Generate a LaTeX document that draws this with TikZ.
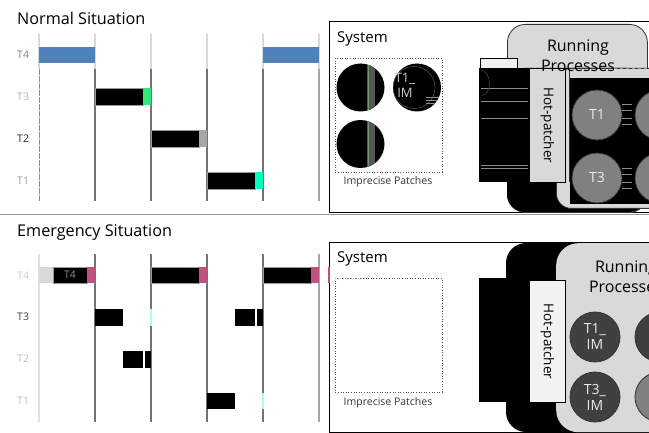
\documentclass[tikz,border=0pt]{standalone}
\usepackage{fontspec}
\setmainfont{Open Sans}
\newcommand{\fsz}[1]{\fontsize{#1}{#1}\selectfont}
\definecolor{tblue}{HTML}{4F81BD}
\definecolor{tgreen}{HTML}{33E678}
\definecolor{tcyan}{HTML}{00FFBE}
\definecolor{tpink}{RGB}{192,80,128}
\definecolor{lcyan}{HTML}{AAFFDD}
\definecolor{pgray}{HTML}{D9D9D9}
\definecolor{stripe}{HTML}{555555}
\definecolor{sgreen}{HTML}{6E9A6E}
\begin{document}
\begin{tikzpicture}[x=1pt,y=-1pt,
  title/.style={anchor=base west,inner sep=0,font=\fsz{16.2}},
  rowlbl/.style={anchor=west,inner sep=0,font=\fsz{10.5}},
  sysbox/.style={draw=black,line width=1pt},
  toplineA/.style={draw=black!15,line width=1.2pt},
  lineB/.style={draw=black!55,line width=1.2pt},
  barblk/.style={fill=black,draw=black!40,line width=0.5pt},
  hp/.style={draw=black,line width=0.8pt,minimum width=36,minimum height=114,inner sep=0},
  proc/.style={circle,minimum size=50,draw=black!80,line width=0.8pt,inner sep=0,align=center,font=\fsz{14},text=black!8},
  patch/.style={circle,minimum size=48,fill=black,inner sep=0},
  streak/.style={draw=black!45,line width=0.3pt}]
\useasboundingbox (0,0) rectangle (649,433);
\clip (0,0) rectangle (649,433);

% ================= NORMAL =================
\node[title] (tn) at (17,25) {Normal Situation};
\node[rowlbl,text=black!50] (n4) at (17,55) {T4};
\node[rowlbl,text=black!30] (n3) at (17,97) {T3};
\node[rowlbl,text=black!85] (n2) at (17,139) {T2};
\node[rowlbl,text=black!40] (n1) at (17,181) {T1};

\foreach \x in {39,95,151,207,263,319}{
  \draw[toplineA] (\x,34) -- (\x,69);
}
\draw[draw=black!45,line width=0.8pt,dash pattern=on 6pt off 1pt] (39,69) -- (39,201);
\foreach \x in {95,151,207,263}{\draw[lineB] (\x,69) -- (\x,201);}
\draw[draw=black!35,line width=1.2pt] (319,69) -- (319,201);

\fill[tblue] (39,47) rectangle (95,63);
\fill[tblue] (263,47) rectangle (319,63);
\draw[barblk] (95,88) rectangle (143,105);
\fill[tgreen] (143,88) rectangle (151,105);
\draw[barblk] (151,130) rectangle (199,147);
\fill[black!35] (199,130) rectangle (207,147);
\draw[barblk] (207,172) rectangle (255,189);
\fill[tcyan] (255,172) rectangle (263,189);

% system box (top)
\draw[sysbox] (329,22) rectangle (670,213);
\node[anchor=base west,inner sep=0,font=\fsz{15}] (sys1) at (337,43) {System};
\draw[black!70,line width=0.6pt,dotted] (335,58) rectangle (442,172);
\node[inner sep=0,font=\fsz{10.5},text=black!80] (ip1) at (388,182) {Imprecise Patches};

\node[patch] (pa) at (360.5,87.5) {};
\node[patch] (pb) at (417,87.5) {};
\node[patch] (pc) at (360.5,144) {};
\begin{scope}
  \clip (360.5,87.5) circle (24);
  \fill[stripe] (367,60) rectangle (375,115);
  \draw[sgreen,line width=0.3pt] (368.5,60) -- (368.5,115);
\end{scope}
\begin{scope}
  \clip (360.5,144) circle (24);
  \fill[stripe] (367,118) rectangle (375,170);
  \draw[sgreen,line width=0.3pt] (368.5,118) -- (368.5,170);
\end{scope}
\begin{scope}
  \clip (417,87.5) circle (24);
  \draw[black!70,line width=0.6pt] (414,87.5) circle (21);
  \foreach \yy in {97,100,103}{\draw[streak] (426,\yy) -- (441,\yy);}
\end{scope}
\node[inner sep=0,align=center,font=\fsz{13},text=black!20] (pbt) at (405,85) {T1\_\\[2pt]IM};

% running processes (top)
\node[draw=black!80,fill=pgray,rounded corners=18,line width=0.8pt,minimum width=140,minimum height=188,anchor=north west,inner sep=0] (rp1) at (507,24) {};
\fill[black,rounded corners=18] (507,68) rectangle (647,212);
\fill[black] (479,68) rectangle (530,182);
\draw[fill=black!6,draw=black,line width=0.6pt] (480,58) rectangle (517,68);
\foreach \yy in {88,101,118,165,168}{\draw[streak] (481,\yy) -- (528,\yy);}
\draw[black!70,line width=0.5pt] (482,70) .. controls (492,75) and (492,92) .. (482,96);
\node[draw=black!80,fill=pgray,rounded corners=15,line width=0.8pt,minimum width=120,minimum height=140,anchor=north west,inner sep=0] (in1) at (556,68) {};
\fill[black] (570,78) rectangle (649,204);
\node[hp,fill=pgray,anchor=north west] (hp1) at (529,68) {};
\node[rotate=-90,inner sep=0,font=\fsz{13.5}] (hpt1) at (hp1.center) {Hot-patcher};
\draw[black!80,line width=1pt] (569,69) -- (569,182);
\node[inner sep=0,align=center,font=\fsz{16}] (rpt1) at (578,56) {Running\\[4pt]Processes};
\draw[black!45,line width=0.6pt,dashed] (614,68) -- (649,68);

\node[proc,fill=black!50] (p1) at (597,115) {T1};
\node[proc,fill=black!50] (p3) at (597,178) {T3};
\node[proc,fill=black!50] (p2) at (660,115) {};
\node[proc,fill=black!50] (p4) at (660,178) {};
\foreach \yy in {104,110,118,124,168,174,182,188}{\draw[streak] (622,\yy) -- (632,\yy);}

% separator
\draw[black!40,line width=1pt] (0,215) -- (649,215);

% ================= EMERGENCY =================
\node[title] (te) at (17,237) {Emergency Situation};
\node[rowlbl,text=black!20] (e4) at (17,276) {T4};
\node[rowlbl,text=black!75] (e3) at (17,317) {T3};
\node[rowlbl,text=black!25] (e2) at (17,359) {T2};
\node[rowlbl,text=black!25] (e1) at (17,401) {T1};

\draw[draw=black!12,line width=1.2pt] (39,254) -- (39,422);
\foreach \x in {95,151,207,263}{\draw[lineB] (\x,254) -- (\x,422);}
\draw[draw=black!35,line width=1.2pt] (319,254) -- (319,422);

\fill[pgray] (39,267) rectangle (53,283);
\draw[barblk] (53,267) rectangle (87,283);
\node[inner sep=0,font=\fsz{10.5},text=black!45] (t4in) at (70,275) {T4};
\fill[tpink] (87,267) rectangle (95,283);
\draw[barblk] (151,267) rectangle (199,283);
\fill[tpink] (199,267) rectangle (207,283);
\draw[barblk] (263,267) rectangle (311,283);
\fill[tpink] (311,267) rectangle (319,283);

\fill[black] (95,309) rectangle (123,326);
\draw[lcyan,line width=1.5pt] (151,309) -- (151,326);
\fill[black] (235,309) rectangle (255,326);
\fill[black] (256.5,309) rectangle (263,326);
\fill[black] (123,351) rectangle (143,368);
\fill[black] (144.5,351) rectangle (151,368);
\fill[black] (207,393) rectangle (235,409);
\draw[lcyan,line width=1.5pt] (263,393) -- (263,409);

% system box (bottom)
\draw[sysbox] (329,243) rectangle (670,432);
\draw[tpink,line width=1.5pt] (329,267) -- (329,283);
\node[anchor=base west,inner sep=0,font=\fsz{15}] (sys2) at (337,263) {System};
\draw[black!70,line width=0.6pt,dotted] (335,278) rectangle (442,392);
\draw[tpink!60,line width=0.6pt,dotted] (335,278) -- (366,278);
\node[inner sep=0,font=\fsz{10.5},text=black!80] (ip2) at (388,403) {Imprecise Patches};

\fill[black,rounded corners=20] (506,243) rectangle (620,432);
\fill[black] (479,278) rectangle (530,402);
\node[fill=pgray,rounded corners=22,minimum width=130,minimum height=189,anchor=north west,inner sep=0] (rp2) at (556,243) {};
\node[hp,fill=black!5,anchor=north west,minimum height=122] (hp2) at (529,280) {};
\node[rotate=-90,inner sep=0,font=\fsz{13.5}] (hpt2) at (hp2.center) {Hot-patcher};
\node[inner sep=0,align=center,font=\fsz{16}] (rpt2) at (626,277) {Running\\[4pt]Processes};

\node[proc,fill=black!75] (q1) at (595,337) {T1\_\\[2pt]IM};
\node[proc,fill=black!75] (q3) at (595,397) {T3\_\\[2pt]IM};
\node[proc,fill=black!75] (q2) at (660,337) {};
\node[proc,fill=black!50] (q4) at (660,397) {};
\end{tikzpicture}
\end{document}
